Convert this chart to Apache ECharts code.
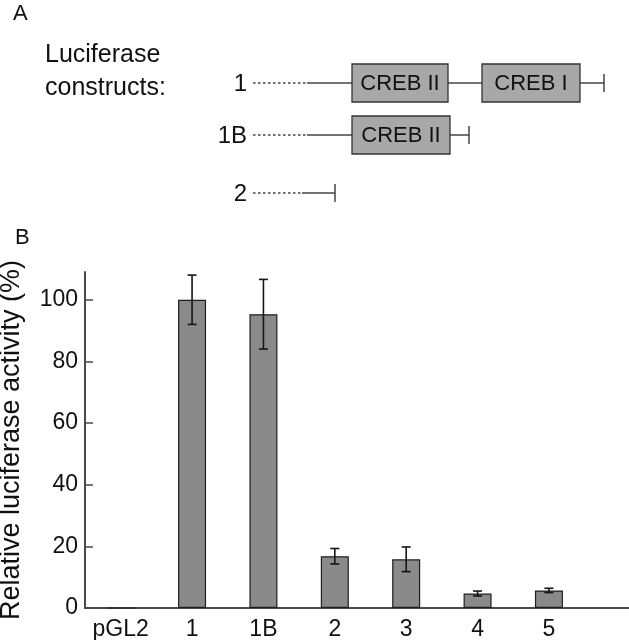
<!DOCTYPE html>
<html>
<head>
<meta charset="utf-8">
<script src="https://cdn.jsdelivr.net/npm/echarts@6/dist/echarts.min.js"></script>
<style>html,body{margin:0;padding:0;background:#fff}#c{width:629px;height:640px}</style>
</head>
<body>
<div id="c"></div>
<script>
// ---- Panel B data ----
const categories = ['pGL2', '1', '1B', '2', '3', '4', '5'];
const activity = [0, 100, 95.3, 16.8, 15.8, 4.7, 5.7];
const activityErr = [null, 8, 11.3, 2.5, 4, 0.8, 0.7];
const yTicks = [0, 20, 40, 60, 80, 100];

// ---- Panel A schematic data (schematic units) ----
const constructLabels = ['1', '1B', '2'];
const constructRowY = [83, 135, 193];
const constructDashStart = [253, 253, 253];
const constructSolidStart = [307, 307, 302];
const constructEnd = [604, 469, 335];
const boxRow = [0, 0, 1];
const boxStart = [352, 482, 352];
const boxEnd = [448, 580, 450];
const boxText = ['CREB II', 'CREB I', 'CREB II'];

const FONT = "'Liberation Sans', Arial, sans-serif";
const chart = echarts.init(document.getElementById('c'), null, {renderer: 'canvas'});

const xData = categories.concat(['']);
const errData = categories.map((c, i) => activityErr[i] == null ? null :
  [i, activity[i] - activityErr[i], activity[i] + activityErr[i]]).filter(d => d);

const schematicData = constructLabels.map((l, i) => [i]);

chart.setOption({
  animation: false,
  title: [
    {text: 'A', left: 13, top: 3, padding: 0, textStyle: {fontFamily: FONT, fontWeight: 'normal', fontSize: 22, color: '#111'}},
    {text: 'Luciferase\nconstructs:', left: 45, top: 39, padding: 0, textStyle: {fontFamily: FONT, fontWeight: 'normal', fontSize: 25, lineHeight: 33, color: '#111'}},
    {text: 'B', left: 15, top: 227, padding: 0, textStyle: {fontFamily: FONT, fontWeight: 'normal', fontSize: 22, color: '#111'}}
  ],
  grid: [
    {left: 85, top: 272, width: 571, height: 336, outerBoundsMode: 'none', containLabel: false},
    {left: 0, top: 0, width: 629, height: 640, outerBoundsMode: 'none', containLabel: false}
  ],
  xAxis: [
    {
      type: 'category', gridIndex: 0, data: xData,
      axisLine: {lineStyle: {color: '#4a4a4a', width: 2}},
      axisTick: {show: false},
      axisLabel: {fontFamily: FONT, fontSize: 23, color: '#111', margin: 10, interval: 0}
    },
    {type: 'value', gridIndex: 1, min: 0, max: 629, show: false}
  ],
  yAxis: [
    {
      type: 'value', gridIndex: 0, min: 0, max: 109,
      name: 'Relative luciferase activity (%)', nameLocation: 'middle', nameGap: 60,
      nameTextStyle: {fontFamily: FONT, fontSize: 27, color: '#111'},
      splitLine: {show: false},
      axisLine: {show: true, lineStyle: {color: '#4a4a4a', width: 2}},
      axisTick: {show: true, inside: true, length: 8, customValues: yTicks, lineStyle: {color: '#4a4a4a', width: 1.5}},
      axisLabel: {fontFamily: FONT, fontSize: 23, color: '#111', margin: 7, customValues: yTicks}
    },
    {type: 'value', gridIndex: 1, min: 0, max: 640, inverse: true, show: false}
  ],
  series: [
    {
      type: 'bar', xAxisIndex: 0, yAxisIndex: 0, data: activity, barWidth: 28,
      itemStyle: {color: '#8a8a8a', borderColor: '#1e1e1e', borderWidth: 1.2}
    },
    {
      type: 'custom', xAxisIndex: 0, yAxisIndex: 0, data: errData, z: 10,
      renderItem: function (params, api) {
        const x = api.value(0);
        const lo = api.coord([x, api.value(1)]);
        const hi = api.coord([x, api.value(2)]);
        const w = 4.5;
        const st = {stroke: '#151515', lineWidth: 1.6};
        return {type: 'group', children: [
          {type: 'line', shape: {x1: lo[0], y1: lo[1], x2: hi[0], y2: hi[1]}, style: st},
          {type: 'line', shape: {x1: lo[0] - w, y1: lo[1], x2: lo[0] + w, y2: lo[1]}, style: st},
          {type: 'line', shape: {x1: hi[0] - w, y1: hi[1], x2: hi[0] + w, y2: hi[1]}, style: st}
        ]};
      }
    },
    {
      type: 'custom', xAxisIndex: 1, yAxisIndex: 1, data: schematicData, silent: true,
      renderItem: function (params, api) {
        const i = api.value(0);
        const y = constructRowY[i];
        const p = (x, yy) => api.coord([x, yy]);
        const d0 = p(constructDashStart[i], y), s0 = p(constructSolidStart[i], y), e0 = p(constructEnd[i], y);
        const tTop = p(constructEnd[i], y - 9), tBot = p(constructEnd[i], y + 9);
        const lineSt = {stroke: '#444', lineWidth: 1.5};
        const children = [
          {type: 'line', shape: {x1: d0[0], y1: d0[1], x2: s0[0], y2: s0[1]}, style: {stroke: '#444', lineWidth: 1.3, lineDash: [2.5, 2.5]}},
          {type: 'line', shape: {x1: s0[0], y1: s0[1], x2: e0[0], y2: e0[1]}, style: lineSt},
          {type: 'line', shape: {x1: tTop[0], y1: tTop[1], x2: tBot[0], y2: tBot[1]}, style: lineSt},
          {type: 'text', x: d0[0] - 6, y: d0[1] + 1, style: {text: constructLabels[i], font: '24px ' + FONT, fill: '#111', align: 'right', verticalAlign: 'middle'}}
        ];
        boxRow.forEach((r, b) => {
          if (r !== i) return;
          const tl = p(boxStart[b], y - 19), br = p(boxEnd[b], y + 19);
          children.push({type: 'rect', shape: {x: tl[0], y: tl[1], width: br[0] - tl[0], height: br[1] - tl[1]},
            style: {fill: '#a8a8a8', stroke: '#333', lineWidth: 1.3}});
          children.push({type: 'text', x: (tl[0] + br[0]) / 2, y: (tl[1] + br[1]) / 2 + 1,
            style: {text: boxText[b], font: '22px ' + FONT, fill: '#111', align: 'center', verticalAlign: 'middle'}});
        });
        return {type: 'group', children: children};
      }
    }
  ]
});
</script>
</body>
</html>
